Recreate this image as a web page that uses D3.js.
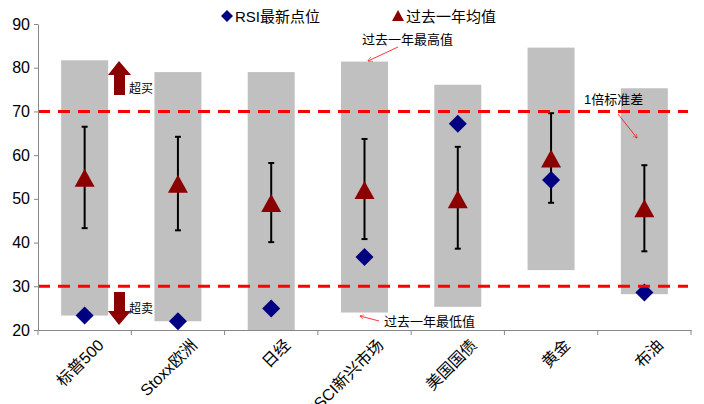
<!DOCTYPE html><html><head><meta charset="utf-8"><script src="https://cdn.jsdelivr.net/npm/d3@7"></script>
<style>body{margin:0;background:#fff}text{font-family:"Liberation Sans","Noto Sans CJK SC",sans-serif}</style></head><body><svg id="c" width="704" height="404"></svg><script>
const categories=["标普500","Stoxx欧洲","日经","MSCI新兴市场","美国国债","黄金","布油"];
const maxVals=[81.7,79,79,81.4,76.1,84.6,75.3];
const minVals=[23.3,22,20,24,25.3,33.7,28.2];
const meanVals=[54.6,53.2,48.8,51.8,49.7,59,47.6];
const errHigh=[66.5,64.2,58.2,63.7,61.9,69.6,57.7];
const errLow=[43.3,42.8,40.1,40.8,38.6,49.1,38];
const rsiVals=[23.3,22,24.9,36.7,67.2,54.3,28.6];
const yTicks=[20,30,40,50,60,70,80,90];
const svg=d3.select("#c");
const x=d3.scaleBand().domain(categories).range([38,691]);
const y=d3.scaleLinear().domain([20,90]).range([330,24]);
const g=svg.append("g");
categories.forEach((c,i)=>{
 const cx=x(c)+x.bandwidth()/2;
 g.append("rect").attr("x",cx-23.5).attr("width",47).attr("y",y(maxVals[i])).attr("height",y(minVals[i])-y(maxVals[i])).attr("fill","#c0c0c0");
});
[70,30].forEach(v=>svg.append("line").attr("x1",38).attr("x2",688).attr("y1",y(v)).attr("y2",y(v)).attr("stroke","#ff0000").attr("stroke-width",3).attr("stroke-dasharray","12,8"));
categories.forEach((c,i)=>{
 const cx=x(c)+x.bandwidth()/2;
 g.append("line").attr("x1",cx).attr("x2",cx).attr("y1",y(errHigh[i])).attr("y2",y(errLow[i])).attr("stroke","#000").attr("stroke-width",2);
 [errHigh[i],errLow[i]].forEach(v=>g.append("line").attr("x1",cx-3).attr("x2",cx+3).attr("y1",y(v)).attr("y2",y(v)).attr("stroke","#000").attr("stroke-width",2));
 const ty=y(meanVals[i]);
 g.append("path").attr("d",`M${cx},${ty-10}L${cx+10},${ty+8}L${cx-10},${ty+8}Z`).attr("fill","#8b0000");
 const ry=y(rsiVals[i]);
 g.append("path").attr("d",`M${cx},${ry-9}L${cx+9},${ry}L${cx},${ry+9}L${cx-9},${ry}Z`).attr("fill","#000080");
});
const ya=svg.append("g").attr("transform","translate(38,0)").call(d3.axisLeft(y).tickValues(yTicks).tickSize(4).tickSizeOuter(0));
ya.selectAll("text").attr("font-size",16).attr("fill","#000").attr("dx",-1);
ya.select(".domain").attr("stroke","#888");ya.selectAll("line").attr("stroke","#888");
const xa=svg.append("g").attr("transform","translate(0,330)").call(d3.axisBottom(x).tickSize(0).tickSizeOuter(0));
xa.select(".domain").attr("stroke","#888");
categories.concat([null]).forEach((c,i)=>svg.append("line").attr("x1",38+i*x.bandwidth()).attr("x2",38+i*x.bandwidth()).attr("y1",330).attr("y2",335).attr("stroke","#888"));
xa.selectAll("text").attr("font-size",16).attr("fill","#000").attr("text-anchor","end").attr("transform","translate(14,10) rotate(-45)").attr("dy","0.35em");
svg.append("path").attr("d","M119,61L131,75L125,75L125,95L114,95L114,75L108,75Z").attr("fill","#8b0000");
svg.append("path").attr("d","M119,325L131,311L125,311L125,292L114,292L114,311L108,311Z").attr("fill","#8b0000");
const t=(s,xx,yy,fs)=>svg.append("text").attr("x",xx).attr("y",yy).attr("font-size",fs||12).text(s);
t("超买",129,93);t("超卖",129,313);
t("过去一年最高值",362,44,13);t("过去一年最低值",384,326,13);t("1倍标准差",584,104,13);
const ar=(x1,y1,x2,y2)=>svg.append("line").attr("x1",x1).attr("y1",y1).attr("x2",x2).attr("y2",y2).attr("stroke","red").attr("stroke-width",0.8).attr("marker-end","url(#ah)");
svg.append("defs").append("marker").attr("id","ah").attr("viewBox","0 0 10 10").attr("refX",9).attr("refY",5).attr("markerWidth",6).attr("markerHeight",6).attr("orient","auto").append("path").attr("d","M0,0L10,5L0,10").attr("fill","none").attr("stroke","red");
ar(398,47,368,61);ar(379,321,360,316);ar(618,114,637,138);
svg.append("path").attr("d","M227,10L233,16L227,22L221,16Z").attr("fill","#000080");
t("RSI最新点位",235,22,15);
svg.append("path").attr("d","M398,10L404,21L392,21Z").attr("fill","#8b0000");
t("过去一年均值",406,22,15);
</script></body></html>
